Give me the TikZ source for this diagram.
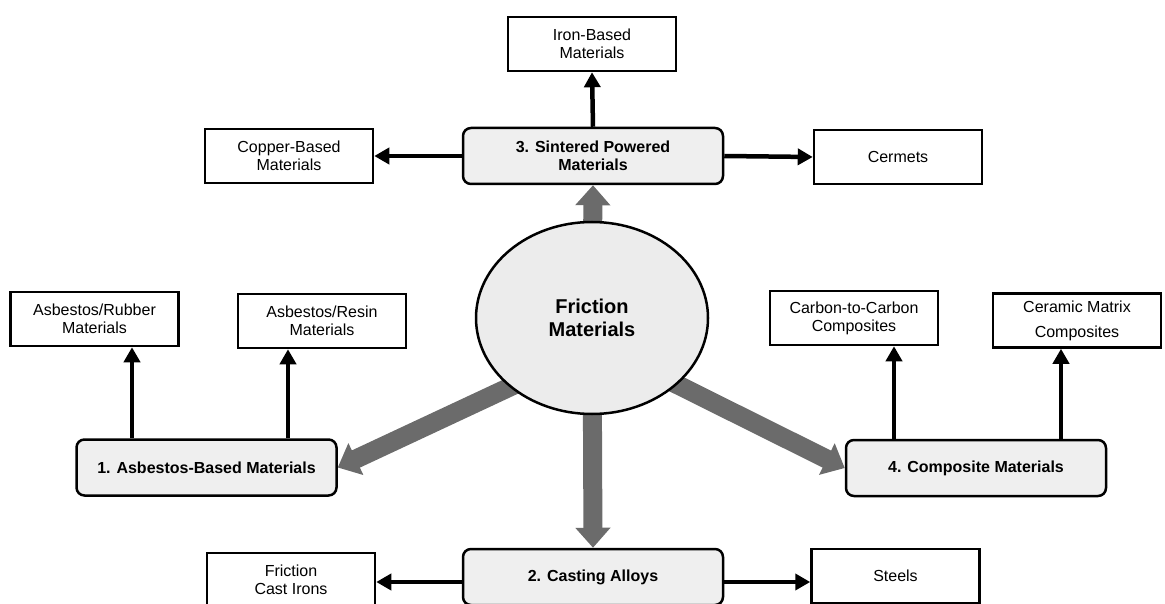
\documentclass[tikz,border=0pt]{standalone}
\usepackage{fontspec}
\setmainfont{Liberation Sans}
\usetikzlibrary{arrows.meta,shapes.geometric,backgrounds,calc}
\definecolor{boxfill}{HTML}{EFEFEF}
\definecolor{ellfill}{HTML}{ECECEC}
\definecolor{arrgray}{HTML}{6B6B6B}
\begin{document}
\begin{tikzpicture}[x=1pt,y=-1pt,
  every node/.style={font=\fontsize{16}{18}\selectfont, align=center, inner sep=0pt},
  leaf/.style={draw=black, line width=2.5pt, fill=white, minimum width=168pt, minimum height=54pt},
  cat/.style={draw=black, line width=2.5pt, fill=boxfill, rounded corners=8pt, minimum width=260pt, minimum height=56pt, font=\fontsize{16}{18}\selectfont\bfseries},
  blk/.style={line width=4.5pt, -{Triangle[length=15pt,width=16pt]}},
  gry/.style={line width=19pt, draw=arrgray, -{Triangle[length=20pt,width=34pt]}}]
\useasboundingbox (0,0) rectangle (1165,604);
\clip (0,0) rectangle (1165,604);

% center
\node[ellipse, draw=black, line width=2.5pt, fill=ellfill, minimum width=232pt, minimum height=192pt,
      font=\fontsize{20}{23}\selectfont\bfseries] (fm) at (592,318) {Friction\\Materials};

% category boxes
\node[cat] (s3) at (593,156) {3. Sintered Powered\\Materials};
\node[cat] (s1) at (206.5,467.5) {1. Asbestos-Based Materials};
\node[cat] (s4) at (976,468) {4. Composite Materials};
\node[cat] (s2) at (593,577) {2. Casting Alloys};

% leaf boxes
\node[leaf] (iron) at (592,44) {Iron-Based\\Materials};
\node[leaf] (copper) at (289,156) {Copper-Based\\Materials};
\node[leaf] (cermets) at (898,157) {Cermets};
\node[leaf] (rubber) at (94.5,319) {Asbestos/Rubber\\Materials};
\node[leaf] (resin) at (322,321) {Asbestos/Resin\\Materials};
\node[leaf] (carbon) at (854,318) {Carbon-to-Carbon\\Composites};
\node[leaf] (ceramic) at (1077,320.5) {Ceramic Matrix\\[7pt]Composites};
\node[leaf] (irons) at (291,580) {Friction\\Cast Irons};
\node[leaf] (steels) at (895.5,576) {Steels};

% gray arrows (behind)
\begin{pgfonlayer}{background}
\draw[gry] (fm.center) -- (s3.south);
\draw[gry] (fm.center) -- (s2.north);
\draw[gry] ($(fm.220)!-25pt!(s1.east)$) -- (s1.east);
\draw[gry] ($(fm.322)!-25pt!(s4.west)$) -- (s4.west);
\end{pgfonlayer}

% black arrows
\draw[blk] (s3.north) -- (iron.south);
\draw[blk] (s3.west) -- (copper.east);
\draw[blk] (s3.east) -- (cermets.west);
\draw[blk] (s1.north -| 132,0) -- (rubber.south -| 132,0);
\draw[blk] (s1.north -| 288,0) -- (resin.south -| 288,0);
\draw[blk] (s4.north -| 894,0) -- (carbon.south -| 894,0);
\draw[blk] (s4.north -| 1061,0) -- (ceramic.south -| 1061,0);
\draw[blk] (s2.west |- 0,582) -- (irons.east |- 0,582);
\draw[blk] (s2.east |- 0,582) -- (steels.west |- 0,582);
\end{tikzpicture}
\end{document}
